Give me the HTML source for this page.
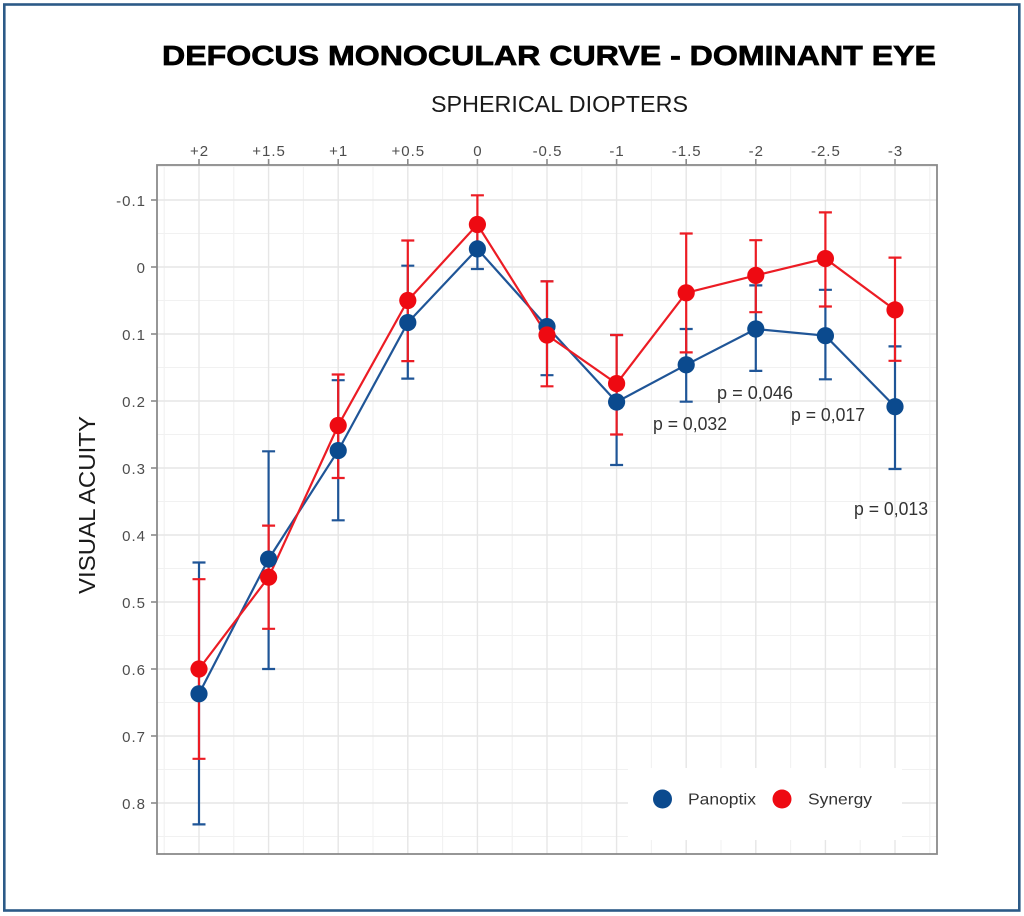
<!DOCTYPE html>
<html>
<head>
<meta charset="utf-8">
<style>
  html, body { margin: 0; padding: 0; background: #ffffff; }
  svg { display: block; }
  text { font-family: "Liberation Sans", "DejaVu Sans", sans-serif; }
</style>
</head>
<body>
<svg width="1024" height="916" viewBox="0 0 1024 916" xmlns="http://www.w3.org/2000/svg">
  <rect x="0" y="0" width="1024" height="916" fill="#ffffff"/>
  <!-- outer frame -->
  <rect x="4.3" y="4.5" width="1015" height="906" fill="none" stroke="#2c5a87" stroke-width="2.6"/>

  <!-- title -->
  <text x="162" y="65" font-size="28" font-weight="bold" fill="#000" stroke="#000" stroke-width="0.7" textLength="774" lengthAdjust="spacingAndGlyphs">DEFOCUS MONOCULAR CURVE - DOMINANT EYE</text>
  <!-- x axis title -->
  <text x="431" y="112" font-size="23" fill="#1a1a1a" textLength="257" lengthAdjust="spacingAndGlyphs">SPHERICAL DIOPTERS</text>
  <!-- y axis title -->
  <text transform="translate(95,594) rotate(-90)" x="0" y="0" font-size="23" fill="#1a1a1a" textLength="178" lengthAdjust="spacingAndGlyphs">VISUAL ACUITY</text>

  <!-- panel background -->
  <rect x="157" y="165" width="780" height="689" fill="#ffffff"/>

  <!-- minor grid -->
  <g stroke="#f1f1f1" stroke-width="1.1">
    <line x1="164.2" y1="165" x2="164.2" y2="854"/>
    <line x1="233.8" y1="165" x2="233.8" y2="854"/>
    <line x1="303.4" y1="165" x2="303.4" y2="854"/>
    <line x1="373" y1="165" x2="373" y2="854"/>
    <line x1="442.6" y1="165" x2="442.6" y2="854"/>
    <line x1="512.2" y1="165" x2="512.2" y2="854"/>
    <line x1="581.8" y1="165" x2="581.8" y2="854"/>
    <line x1="651.4" y1="165" x2="651.4" y2="854"/>
    <line x1="721" y1="165" x2="721" y2="854"/>
    <line x1="790.6" y1="165" x2="790.6" y2="854"/>
    <line x1="860.2" y1="165" x2="860.2" y2="854"/>
    <line x1="929.8" y1="165" x2="929.8" y2="854"/>
    <line x1="157" y1="166.5" x2="937" y2="166.5"/>
    <line x1="157" y1="233.5" x2="937" y2="233.5"/>
    <line x1="157" y1="300.5" x2="937" y2="300.5"/>
    <line x1="157" y1="367.5" x2="937" y2="367.5"/>
    <line x1="157" y1="434.5" x2="937" y2="434.5"/>
    <line x1="157" y1="501.5" x2="937" y2="501.5"/>
    <line x1="157" y1="568.5" x2="937" y2="568.5"/>
    <line x1="157" y1="635.5" x2="937" y2="635.5"/>
    <line x1="157" y1="702.5" x2="937" y2="702.5"/>
    <line x1="157" y1="769.5" x2="937" y2="769.5"/>
    <line x1="157" y1="836.5" x2="937" y2="836.5"/>
  </g>
  <!-- major grid -->
  <g stroke="#e6e6e6" stroke-width="1.4">
    <line x1="199" y1="165" x2="199" y2="854"/>
    <line x1="268.6" y1="165" x2="268.6" y2="854"/>
    <line x1="338.2" y1="165" x2="338.2" y2="854"/>
    <line x1="407.8" y1="165" x2="407.8" y2="854"/>
    <line x1="477.4" y1="165" x2="477.4" y2="854"/>
    <line x1="547" y1="165" x2="547" y2="854"/>
    <line x1="616.6" y1="165" x2="616.6" y2="854"/>
    <line x1="686.2" y1="165" x2="686.2" y2="854"/>
    <line x1="755.8" y1="165" x2="755.8" y2="854"/>
    <line x1="825.4" y1="165" x2="825.4" y2="854"/>
    <line x1="895" y1="165" x2="895" y2="854"/>
    <line x1="157" y1="200" x2="937" y2="200"/>
    <line x1="157" y1="267" x2="937" y2="267"/>
    <line x1="157" y1="334" x2="937" y2="334"/>
    <line x1="157" y1="401" x2="937" y2="401"/>
    <line x1="157" y1="468" x2="937" y2="468"/>
    <line x1="157" y1="535" x2="937" y2="535"/>
    <line x1="157" y1="602" x2="937" y2="602"/>
    <line x1="157" y1="669" x2="937" y2="669"/>
    <line x1="157" y1="736" x2="937" y2="736"/>
    <line x1="157" y1="803" x2="937" y2="803"/>
  </g>

  <!-- panel border -->
  <rect x="157" y="165" width="780" height="689" fill="none" stroke="#8a8a8a" stroke-width="1.8"/>

  <!-- ticks -->
  <g stroke="#8a8a8a" stroke-width="1.6">
    <line x1="199" y1="159" x2="199" y2="165"/>
    <line x1="268.6" y1="159" x2="268.6" y2="165"/>
    <line x1="338.2" y1="159" x2="338.2" y2="165"/>
    <line x1="407.8" y1="159" x2="407.8" y2="165"/>
    <line x1="477.4" y1="159" x2="477.4" y2="165"/>
    <line x1="547" y1="159" x2="547" y2="165"/>
    <line x1="616.6" y1="159" x2="616.6" y2="165"/>
    <line x1="686.2" y1="159" x2="686.2" y2="165"/>
    <line x1="755.8" y1="159" x2="755.8" y2="165"/>
    <line x1="825.4" y1="159" x2="825.4" y2="165"/>
    <line x1="895" y1="159" x2="895" y2="165"/>
    <line x1="151" y1="200" x2="157" y2="200"/>
    <line x1="151" y1="267" x2="157" y2="267"/>
    <line x1="151" y1="334" x2="157" y2="334"/>
    <line x1="151" y1="401" x2="157" y2="401"/>
    <line x1="151" y1="468" x2="157" y2="468"/>
    <line x1="151" y1="535" x2="157" y2="535"/>
    <line x1="151" y1="602" x2="157" y2="602"/>
    <line x1="151" y1="669" x2="157" y2="669"/>
    <line x1="151" y1="736" x2="157" y2="736"/>
    <line x1="151" y1="803" x2="157" y2="803"/>
  </g>

  <!-- x tick labels -->
  <g font-size="15" fill="#4d4d4d" text-anchor="middle" letter-spacing="1">
    <text x="199.5" y="156">+2</text>
    <text x="269.1" y="156">+1.5</text>
    <text x="338.7" y="156">+1</text>
    <text x="408.3" y="156">+0.5</text>
    <text x="477.9" y="156">0</text>
    <text x="547.5" y="156">-0.5</text>
    <text x="617.1" y="156">-1</text>
    <text x="686.7" y="156">-1.5</text>
    <text x="756.3" y="156">-2</text>
    <text x="825.9" y="156">-2.5</text>
    <text x="895.5" y="156">-3</text>
  </g>
  <!-- y tick labels -->
  <g font-size="15" fill="#4d4d4d" text-anchor="end" letter-spacing="1">
    <text x="146" y="206">-0.1</text>
    <text x="146" y="273">0</text>
    <text x="146" y="340">0.1</text>
    <text x="146" y="407">0.2</text>
    <text x="146" y="474">0.3</text>
    <text x="146" y="541">0.4</text>
    <text x="146" y="608">0.5</text>
    <text x="146" y="675">0.6</text>
    <text x="146" y="742">0.7</text>
    <text x="146" y="809">0.8</text>
  </g>

  <!-- Panoptix lines + error bars -->
  <g stroke="#1f5597" stroke-width="2.2" fill="none">
    <polyline points="199,693.8 268.6,559.1 338.2,450.6 407.8,322.6 477.4,248.9 547,326.6 616.6,402 686.2,364.8 755.8,329 825.4,335.7 895,406.7"/>
    <path d="M199,562.5V824.4M192.5,562.5H205.5M192.5,824.4H205.5
             M268.6,451.3V669M262.1,451.3H275.1M262.1,669H275.1
             M338.2,380.2V520.3M331.7,380.2H344.7M331.7,520.3H344.7
             M407.8,265.7V378.6M401.3,265.7H414.3M401.3,378.6H414.3
             M477.4,224.5V269M470.9,224.5H483.9M470.9,269H483.9
             M547,281.4V375.2M540.5,281.4H553.5M540.5,375.2H553.5
             M616.6,335V465M610.1,335H623.1M610.1,465H623.1
             M686.2,329V401.7M679.7,329H692.7M679.7,401.7H692.7
             M755.8,285.4V370.9M749.3,285.4H762.3M749.3,370.9H762.3
             M825.4,289.8V379.3M818.9,289.8H831.9M818.9,379.3H831.9
             M895,346.4V469M888.5,346.4H901.5M888.5,469H901.5"/>
  </g>
  <!-- Synergy lines + error bars -->
  <g stroke="#ec1c24" stroke-width="2.2" fill="none">
    <polyline points="199,669 268.6,577.2 338.2,425.5 407.8,300.5 477.4,224.5 547,335 616.6,383.6 686.2,292.8 755.8,275.4 825.4,258.6 895,309.9"/>
    <path d="M199,579.2V758.8M192.5,579.2H205.5M192.5,758.8H205.5
             M268.6,525.6V628.8M262.1,525.6H275.1M262.1,628.8H275.1
             M338.2,374.5V478M331.7,374.5H344.7M331.7,478H344.7
             M407.8,240.5V361.1M401.3,240.5H414.3M401.3,361.1H414.3
             M477.4,195.3V248.9M470.9,195.3H483.9M470.9,248.9H483.9
             M547,281.4V386.3M540.5,281.4H553.5M540.5,386.3H553.5
             M616.6,335V434.5M610.1,335H623.1M610.1,434.5H623.1
             M686.2,233.5V352.4M679.7,233.5H692.7M679.7,352.4H692.7
             M755.8,240.2V312.2M749.3,240.2H762.3M749.3,312.2H762.3
             M825.4,212.4V306.5M818.9,212.4H831.9M818.9,306.5H831.9
             M895,257.6V360.8M888.5,257.6H901.5M888.5,360.8H901.5"/>
  </g>
  <!-- Panoptix points -->
  <g fill="#0b4a8e">
    <circle cx="199" cy="693.8" r="8.6"/>
    <circle cx="268.6" cy="559.1" r="8.6"/>
    <circle cx="338.2" cy="450.6" r="8.6"/>
    <circle cx="407.8" cy="322.6" r="8.6"/>
    <circle cx="477.4" cy="248.9" r="8.6"/>
    <circle cx="547" cy="326.6" r="8.6"/>
    <circle cx="616.6" cy="402" r="8.6"/>
    <circle cx="686.2" cy="364.8" r="8.6"/>
    <circle cx="755.8" cy="329" r="8.6"/>
    <circle cx="825.4" cy="335.7" r="8.6"/>
    <circle cx="895" cy="406.7" r="8.6"/>
  </g>
  <!-- Synergy points -->
  <g fill="#ee0a12">
    <circle cx="199" cy="669" r="8.6"/>
    <circle cx="268.6" cy="577.2" r="8.6"/>
    <circle cx="338.2" cy="425.5" r="8.6"/>
    <circle cx="407.8" cy="300.5" r="8.6"/>
    <circle cx="477.4" cy="224.5" r="8.6"/>
    <circle cx="547" cy="335" r="8.6"/>
    <circle cx="616.6" cy="383.6" r="8.6"/>
    <circle cx="686.2" cy="292.8" r="8.6"/>
    <circle cx="755.8" cy="275.4" r="8.6"/>
    <circle cx="825.4" cy="258.6" r="8.6"/>
    <circle cx="895" cy="309.9" r="8.6"/>
  </g>

  <!-- p-value annotations -->
  <g font-size="18" fill="#333333">
    <text x="653" y="430" textLength="74" lengthAdjust="spacingAndGlyphs">p = 0,032</text>
    <text x="717" y="399" textLength="76" lengthAdjust="spacingAndGlyphs">p = 0,046</text>
    <text x="791" y="421" textLength="74" lengthAdjust="spacingAndGlyphs">p = 0,017</text>
    <text x="854" y="515" textLength="74" lengthAdjust="spacingAndGlyphs">p = 0,013</text>
  </g>

  <!-- legend -->
  <rect x="628" y="768" width="274" height="72" fill="#ffffff"/>
  <circle cx="662.5" cy="799" r="9.5" fill="#0b4a8e"/>
  <circle cx="782" cy="799" r="9.5" fill="#ee0a12"/>
  <text x="688" y="804.5" font-size="16" fill="#333333" textLength="68" lengthAdjust="spacingAndGlyphs">Panoptix</text>
  <text x="808" y="804.5" font-size="16" fill="#333333" textLength="64" lengthAdjust="spacingAndGlyphs">Synergy</text>
</svg>
</body>
</html>
